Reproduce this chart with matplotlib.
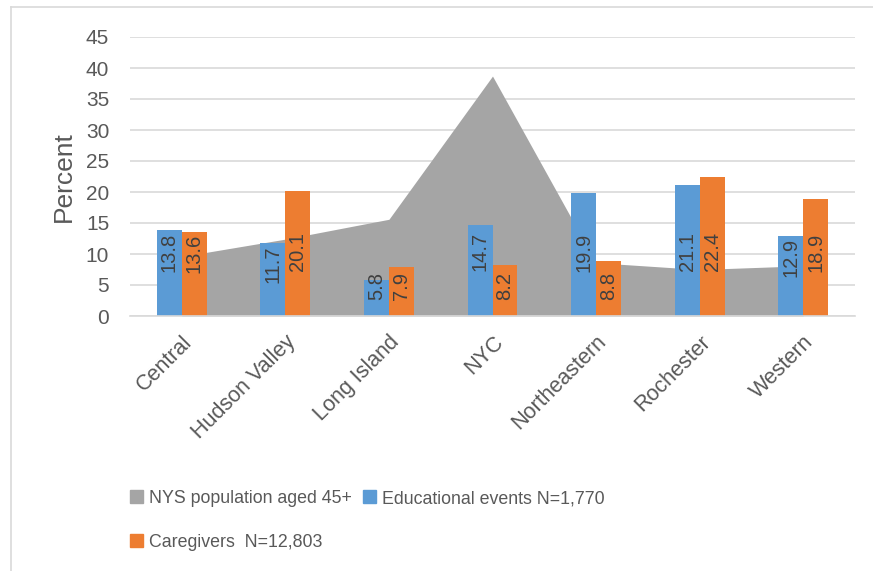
import matplotlib
matplotlib.use("Agg")
import matplotlib.pyplot as plt
import numpy as np
from matplotlib.patches import Patch
from matplotlib.lines import Line2D

plt.rcParams['font.family'] = ['Liberation Sans', 'DejaVu Sans']

categories = ["Central", "Hudson Valley", "Long Island", "NYC", "Northeastern", "Rochester", "Western"]
population = [9.6, 12.4, 15.6, 38.7, 8.6, 7.5, 8.1]
educational = [13.8, 11.7, 5.8, 14.7, 19.9, 21.1, 12.9]
caregivers = [13.6, 20.1, 7.9, 8.2, 8.8, 22.4, 18.9]
yticks = [0, 5, 10, 15, 20, 25, 30, 35, 40, 45]

GRAY = "#A5A5A5"
BLUE = "#5B9BD5"
ORANGE = "#ED7D31"
TXT = "#595959"
LBL = "#404040"

W, H = 873, 571
fig = plt.figure(figsize=(W / 100, H / 100), dpi=100)
ax = fig.add_axes([130 / W, 1 - 316 / H, (855 - 130) / W, (316 - 37) / H])

x = np.arange(len(categories))
ax.fill_between(x, population, 0, color=GRAY, linewidth=0, zorder=1)

bw = 0.241
ax.bar(x - bw / 2, educational, bw, color=BLUE, zorder=2, linewidth=0)
ax.bar(x + bw / 2, caregivers, bw, color=ORANGE, zorder=2, linewidth=0)

def label(xpos, v):
    if v < 10:
        ax.text(xpos, 2.5, f"{v:.1f}", rotation=90, ha="center", va="bottom",
                fontsize=14.5, color=LBL, zorder=3)
    else:
        ax.text(xpos, min(v - 0.3, 13.5), f"{v:.1f}", rotation=90, ha="center", va="top",
                fontsize=14.5, color=LBL, zorder=3)

for i in range(len(categories)):
    label(x[i] - bw / 2, educational[i])
    label(x[i] + bw / 2, caregivers[i])

ax.set_xlim(-0.5, len(categories) - 0.5)
ax.set_ylim(0, 45)
ax.set_yticks(yticks)
ax.set_yticklabels([str(t) for t in yticks], fontsize=15, color=TXT)
ax.yaxis.grid(True, color="#D9D9D9", linewidth=1.2, zorder=0)
ax.set_axisbelow(True)
for s in ["top", "right", "left"]:
    ax.spines[s].set_visible(False)
ax.spines["bottom"].set_color("#D9D9D9")
ax.spines["bottom"].set_linewidth(1.2)
ax.tick_params(axis="both", length=0)
ax.tick_params(axis="y", pad=15)

ax.set_xticks(x)
ax.set_xticklabels(categories, rotation=45, ha="right", va="top", rotation_mode="anchor",
                   fontsize=15.5, color=TXT)
ax.tick_params(axis="x", pad=11)

ax.set_ylabel("Percent", fontsize=19, color=TXT, labelpad=7)

handles = [Patch(color=GRAY), Patch(color=ORANGE), Patch(color=BLUE)]
labels = ["NYS population aged 45+", "Caregivers  N=12,803", "Educational events N=1,770"]
leg = fig.legend(handles, labels, loc="upper left", bbox_to_anchor=(130 / W, 1 - 490 / H),
                 ncol=2, frameon=False, prop={'size': 12.8},
                 handlelength=0.75, handleheight=0.75, borderpad=0,
                 handletextpad=0.3, columnspacing=0.65, labelspacing=1.5, borderaxespad=0)
for t in leg.get_texts():
    t.set_color(TXT)

fig.add_artist(Line2D([11 / W, 1], [1 - 7 / H, 1 - 7 / H], color="#D9D9D9", linewidth=1.2,
                      transform=fig.transFigure))
fig.add_artist(Line2D([11 / W, 11 / W], [0, 1 - 7 / H], color="#D9D9D9", linewidth=1.2,
                      transform=fig.transFigure))

fig.savefig("out.png", dpi=100)
